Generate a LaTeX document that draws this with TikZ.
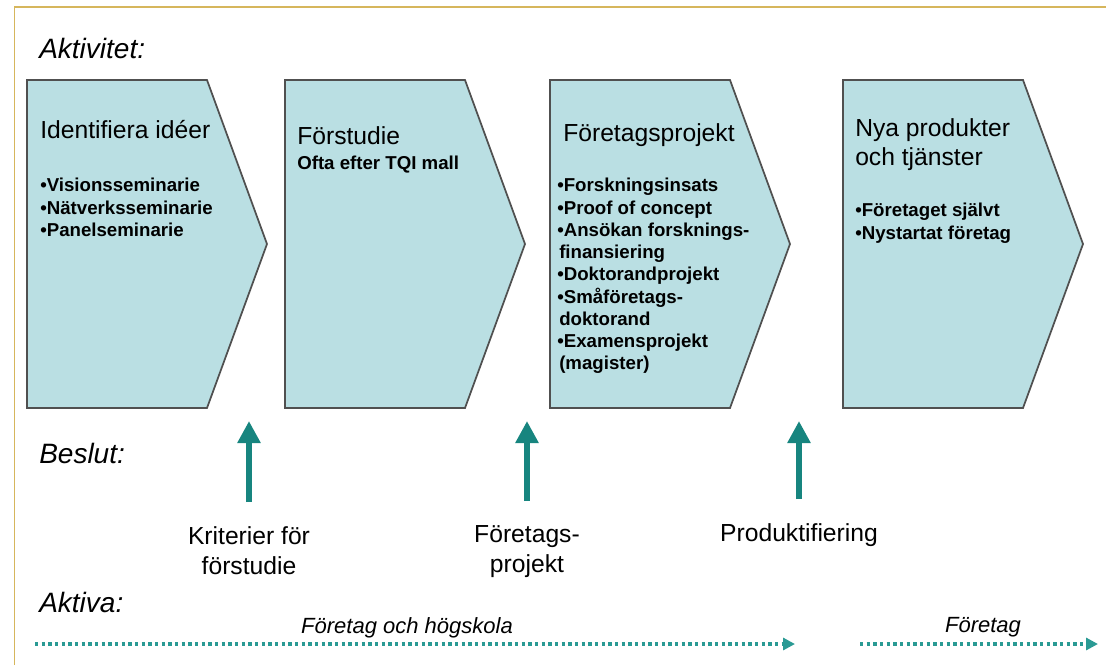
\documentclass[tikz,border=0pt]{standalone}
\usepackage{fontspec}
\setmainfont{Liberation Sans}
\usetikzlibrary{arrows.meta,positioning}
\definecolor{FasFyll}{HTML}{BADFE3}
\definecolor{FasKant}{HTML}{505050}
\definecolor{BeslutTeal}{HTML}{17857F}
\definecolor{AktivaTeal}{HTML}{2A9A94}
\definecolor{RamGuld}{HTML}{D6B65C}

\begin{document}
\begin{tikzpicture}[x=0.75pt,y=-0.75pt,
  fas/.style={fill=FasFyll,draw=FasKant,line width=1.3pt,line join=miter},
  rubrik/.style={anchor=north west,inner sep=0pt,align=left,font=\fontsize{18.5}{21.8}\selectfont},
  punkter/.style={anchor=north west,inner sep=0pt,align=left,font=\fontsize{14}{16.7}\selectfont\bfseries},
  etikett/.style={anchor=north,inner sep=0pt,align=center,font=\fontsize{18.5}{22.5}\selectfont},
  rad/.style={anchor=north west,inner sep=0pt,font=\fontsize{21}{25}\selectfont\itshape},
  aktor/.style={anchor=north,inner sep=0pt,font=\fontsize{16.5}{20}\selectfont\itshape},
  beslutpil/.style={BeslutTeal,line width=5.2pt,-{Triangle[length=16.5pt,width=16.5pt]},shorten <=18pt},
  aktivapil/.style={AktivaTeal,line width=2.7pt,dash pattern=on 2.5pt off 2.5pt,-{Triangle[length=9pt,width=9pt]}}]
\useasboundingbox (0,0) rectangle (1106,665);
\draw[RamGuld,line width=1.2pt] (14.5,665) -- (14.5,7) -- (1106,7);

% faserna
\foreach \x in {27,285,550,843}
  \draw[fas] (\x,80) -- ++(180,0) -- ++(60,164) -- ++(-60,164) -- ++(-180,0) -- cycle;

\node[rad] (aktivitet) at (39,38) {Aktivitet:};
\node[rad] (beslut) at (39,443) {Beslut:};
\node[rad] (aktiva) at (39,592) {Aktiva:};

\node[rubrik] (idee) at (40,120) {Identifiera idéer};
\node[punkter] (ideelista) at (40,178) {•Visionsseminarie\\•Nätverksseminarie\\•Panelseminarie};
\node[rubrik] (forstudie) at (297,126) {Förstudie};
\node[punkter] (forstudielista) at (297,156) {Ofta efter TQI mall};
\node[rubrik] (projekt) at (563,123) {Företagsprojekt};
\node[punkter] (projektlista) at (557,178) {•Forskningsinsats\\•Proof of concept\\•Ansökan forsknings-\\
  \hspace*{1.5pt}finansiering\\•Doktorandprojekt\\•Småföretags-\\\hspace*{1.5pt}doktorand\\
  •Examensprojekt\\\hspace*{1.5pt}(magister)};
\node[rubrik] (produkt) at (855,118) {Nya produkter\\och tjänster};
\node[punkter] (produktlista) at (855,203) {•Företaget självt\\•Nystartat företag};

% beslutspunkter
\coordinate (tak) at (0,421);
\node[etikett] (kriterier) at (249,526) {Kriterier för\\förstudie};
\node[etikett] (ftgprojekt) at (527,525) {Företags-\\projekt};
\node[etikett] (produktifiering) at (799,523) {Produktifiering};
\draw[beslutpil] (kriterier.north) -- (kriterier.north |- tak);
\draw[beslutpil] (ftgprojekt.north) -- (ftgprojekt.north |- tak);
\draw[beslutpil] (produktifiering.north) -- (produktifiering.north |- tak);

% aktiva
\coordinate (hs0) at (35,644);
\coordinate (hs1) at (795,644);
\coordinate (ftg0) at (860,644);
\coordinate (ftg1) at (1098,644);
\node[aktor] (hogskola) at (407,617) {Företag och högskola};
\node[aktor] (foretag) at (983,617) {Företag};
\draw[aktivapil] (hs0) -- (hs1);
\draw[aktivapil] (ftg0) -- (ftg1);
\end{tikzpicture}
\end{document}
